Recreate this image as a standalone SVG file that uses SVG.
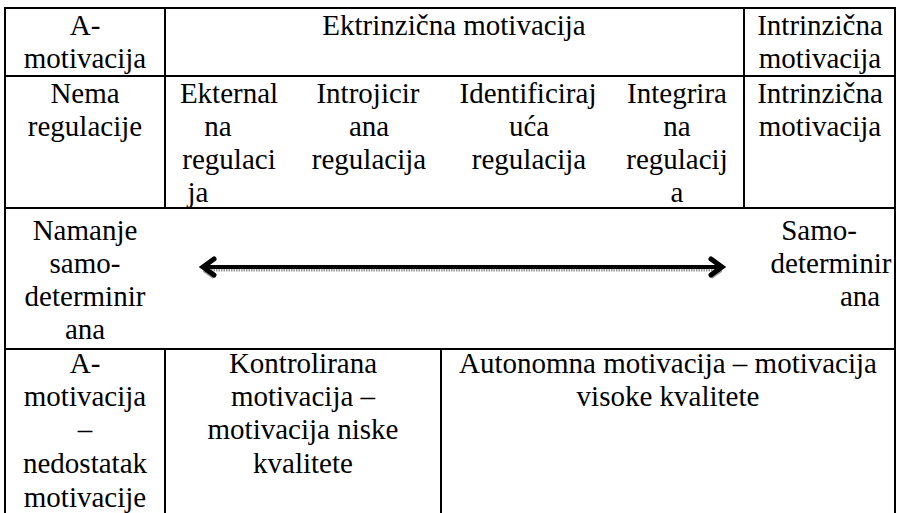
<svg xmlns="http://www.w3.org/2000/svg" width="897" height="513" viewBox="0 0 897 513">
<style>
text{font-family:'Liberation Serif','Times New Roman',Times,Tinos,'Noto Serif','DejaVu Serif','Nimbus Roman','FreeSerif',serif;font-size:29px;fill:#000;text-anchor:middle}
.grid line{stroke:#000;stroke-width:2}
</style>
<rect width="897" height="513" fill="#fff"/>
<g class="grid">
<line x1="4" y1="8" x2="896" y2="8"/>
<line x1="4" y1="76" x2="896" y2="76"/>
<line x1="4" y1="208" x2="896" y2="208"/>
<line x1="4" y1="349" x2="896" y2="349"/>
<line x1="5" y1="8" x2="5" y2="513"/>
<line x1="895" y1="8" x2="895" y2="513"/>
<line x1="165" y1="8" x2="165" y2="208"/>
<line x1="744" y1="8" x2="744" y2="208"/>
<line x1="165" y1="349" x2="165" y2="513"/>
<line x1="441" y1="349" x2="441" y2="513"/>
</g>
<g id="n-amot-h"><text x="85" y="35">A-</text><text x="85" y="68">motivacija</text></g>
<g id="n-ekst-h"><text x="454" y="35">Ektrinzična motivacija</text></g>
<g id="n-intr-h"><text x="820" y="35">Intrinzična</text><text x="820" y="68">motivacija</text></g>
<g id="n-nema"><text x="85" y="103">Nema</text><text x="85" y="136">regulacije</text></g>
<g id="n-ekst"><text x="229" y="103">Ekternal</text><text x="218" y="136">na</text><text x="229" y="169">regulaci</text><text x="198" y="202">ja</text></g>
<g id="n-intro"><text x="368" y="103">Introjicir</text><text x="369" y="136">ana</text><text x="369" y="169">regulacija</text></g>
<g id="n-ident"><text x="528" y="103">Identificiraj</text><text x="529" y="136">uća</text><text x="529" y="169">regulacija</text></g>
<g id="n-integ"><text x="677" y="103">Integrira</text><text x="677" y="136">na</text><text x="677" y="169">regulacij</text><text x="677" y="202">a</text></g>
<g id="n-intr"><text x="820" y="103">Intrinzična</text><text x="820" y="136">motivacija</text></g>
<g id="n-manje"><text x="85" y="240">Namanje</text><text x="85" y="273">samo-</text><text x="85" y="306">determinir</text><text x="85" y="339">ana</text></g>
<g id="n-samo"><text x="819" y="240">Samo-</text><text x="831" y="273">determinir</text><text x="860" y="306">ana</text></g>
<g id="n-amot"><text x="85" y="373">A-</text><text x="85" y="406">motivacija</text><text x="85" y="439">–</text><text x="85" y="473">nedostatak</text><text x="85" y="507">motivacije</text></g>
<g id="n-kontr"><text x="303" y="373">Kontrolirana</text><text x="303" y="406">motivacija –</text><text x="303" y="439">motivacija niske</text><text x="303" y="473">kvalitete</text></g>
<g id="n-auto"><text x="668" y="373">Autonomna motivacija – motivacija</text><text x="668" y="406">visoke kvalitete</text></g>
<g id="connectors">
<line x1="206" y1="270" x2="718" y2="270" stroke="#9a9a9a" stroke-width="3" stroke-dasharray="1.5 1"/>
<path d="M204 270 L214 277 M721 270 L711 277" stroke="#9a9a9a" stroke-width="4" fill="none"/>
<line x1="204" y1="267" x2="722" y2="267" stroke="#000" stroke-width="4"/>
<path d="M214 259 L203 267 L214 275 M711 259 L722 267 L711 275" stroke="#000" stroke-width="5" fill="none" stroke-linejoin="miter" stroke-linecap="round"/>
</g>
</svg>
